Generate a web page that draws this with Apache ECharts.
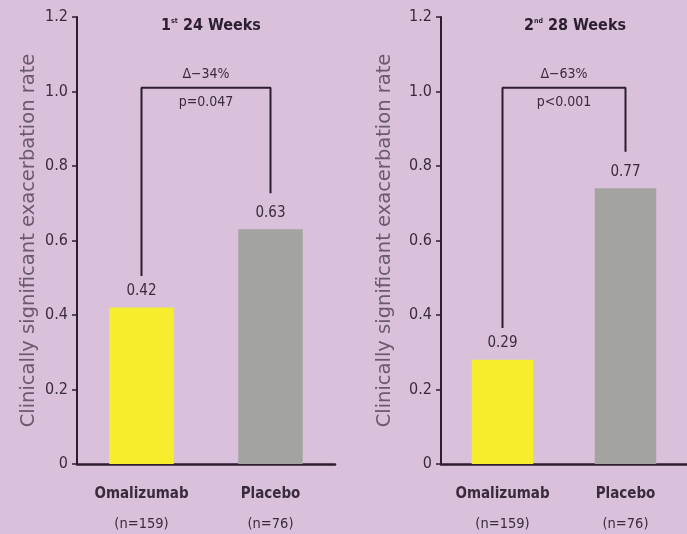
<!DOCTYPE html>
<html>
<head>
<meta charset="utf-8">
<script src="https://cdn.jsdelivr.net/npm/echarts@6/dist/echarts.min.js"></script>
<style>
html,body{margin:0;padding:0;background:#d9c1db;}
#c{width:687px;height:534px;}
</style>
</head>
<body>
<div id="c"></div>
<script>
var categories = ['Omalizumab', 'Placebo'];
var groupSizes = ['(n=159)', '(n=76)'];
var periodTitles = [['1', 'st', ' 24 Weeks'], ['2', 'nd', ' 28 Weeks']];
var ratesPeriod1 = [0.42, 0.63];
var ratesPeriod2 = [0.28, 0.74];
var rateLabels1 = ['0.42', '0.63'];
var rateLabels2 = ['0.29', '0.77'];
var bracketTop = 1.01;
var bracketEnds1 = [0.505, 0.727];
var bracketEnds2 = [0.365, 0.838];
var deltaTexts = ['\u0394\u221234%', '\u0394\u221263%'];
var pTexts = ['p=0.047', 'p<0.001'];
var yName = 'Clinically significant exacerbation rate';

var dark = '#2c1d2f';
var textCol = '#3a2b3c';
var fam = '"DejaVu Sans", sans-serif';
var cond = 'condensed';
var colors = ['#f6ed2c', '#a3a39f'];

var chart = echarts.init(document.getElementById('c'), null, {renderer: 'canvas'});

var gridLefts = [77, 441];
var nameGaps = [38, 46];
var allRates = [ratesPeriod1, ratesPeriod2];
var allLabels = [rateLabels1, rateLabels2];
var allEnds = [bracketEnds1, bracketEnds2];

var grids = [], xAxes = [], yAxes = [], series = [], titles = [];
for (var g = 0; g < 2; g++) {
  grids.push({left: gridLefts[g], top: 17, width: 258, height: 447});
  xAxes.push({
    type: 'category', gridIndex: g, data: categories,
    axisLine: {lineStyle: {color: dark, width: 2.5}},
    axisTick: {show: false},
    axisLabel: {
      margin: 15,
      formatter: function(v, i){ return '{b|' + v + '}\n{n|' + groupSizes[i] + '}'; },
      rich: {
        b: {fontFamily: fam, fontStyle: cond, fontWeight: 'bold', fontSize: 15, color: textCol, lineHeight: 30},
        n: {fontFamily: fam, fontStyle: cond, fontSize: 14.5, color: textCol, lineHeight: 30}
      }
    }
  });
  yAxes.push({
    type: 'value', gridIndex: g, min: 0, max: 1.2, interval: 0.2,
    name: yName, nameLocation: 'middle', nameGap: nameGaps[g],
    nameTextStyle: {fontFamily: fam, fontSize: 19.5, color: '#6a5a6e'},
    axisLine: {show: true, lineStyle: {color: dark, width: 2}},
    axisTick: {show: true, length: 5, lineStyle: {color: dark, width: 1.5}},
    splitLine: {show: false},
    axisLabel: {
      margin: 9, fontFamily: fam, fontStyle: cond, fontSize: 16, color: textCol,
      formatter: function(v){ return v === 0 ? '0' : v.toFixed(1); }
    }
  });
  series.push({
    type: 'bar', xAxisIndex: g, yAxisIndex: g, barWidth: '50%',
    data: allRates[g].map(function(v, i){ return {value: v, itemStyle: {color: colors[i]}}; }),
    label: {
      show: true, position: 'top', distance: 9,
      fontFamily: fam, fontStyle: cond, fontSize: 15, color: textCol,
      formatter: (function(l){ return function(p){ return l[p.dataIndex]; }; })(allLabels[g])
    }
  });
  var ends = allEnds[g];
  series.push({
    type: 'line', xAxisIndex: g, yAxisIndex: g, symbol: 'none', silent: true,
    lineStyle: {color: dark, width: 2},
    data: [[0, ends[0]], [0, bracketTop], [1, bracketTop], [1, ends[1]]]
  });
  var t = periodTitles[g];
  titles.push({
    text: '{a|' + t[0] + '}{s|' + t[1] + '}{a|' + t[2] + '}',
    left: gridLefts[g] + 129, top: 13, textAlign: 'center',
    textStyle: {
      rich: {
        a: {fontFamily: fam, fontStyle: cond, fontWeight: 'bold', fontSize: 16, color: dark},
        s: {fontFamily: fam, fontStyle: cond, fontWeight: 'bold', fontSize: 7, color: dark, padding: [0, 0, 9, 0]}
      }
    }
  });
}

chart.setOption({
  backgroundColor: '#d9c1db',
  animation: false,
  title: titles,
  grid: grids,
  xAxis: xAxes,
  yAxis: yAxes,
  series: series
});

// bracket annotations placed at the midpoint of each bracket, via the axes
var graphics = [];
for (var k = 0; k < 2; k++) {
  var a = chart.convertToPixel({gridIndex: k}, [0, bracketTop]);
  var b = chart.convertToPixel({gridIndex: k}, [1, bracketTop]);
  var mx = (a[0] + b[0]) / 2;
  graphics.push({
    type: 'text', x: mx, y: a[1] - 6,
    style: {text: deltaTexts[k], font: cond + ' 14px ' + fam, fill: textCol, align: 'center', verticalAlign: 'bottom'}
  });
  graphics.push({
    type: 'text', x: mx, y: a[1] + 8,
    style: {text: pTexts[k], font: cond + ' 14px ' + fam, fill: textCol, align: 'center', verticalAlign: 'top'}
  });
}
chart.setOption({graphic: graphics});
</script>
</body>
</html>
